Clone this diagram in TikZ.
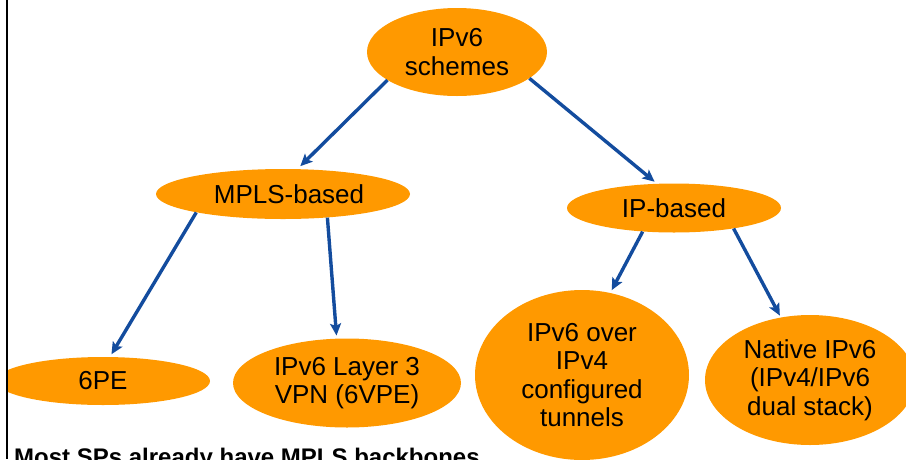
\documentclass[tikz,border=0pt]{standalone}
\usepackage{fontspec}
\setmainfont{Liberation Sans}
\usetikzlibrary{shapes.geometric,arrows.meta}
\definecolor{schemeorange}{HTML}{FF9900}
\definecolor{linkblue}{HTML}{134C9E}
\tikzset{
  oval/.style={ellipse, fill=schemeorange, draw=none, inner sep=0pt,
    align=center, font=\fontsize{26}{28.5}\selectfont},
  link/.style={draw=linkblue, line width=3.4pt,
    -{Stealth[length=12pt,width=11pt,inset=2.5pt]}, shorten >=3pt}
}
\begin{document}
\begin{tikzpicture}[x=1pt, y=-1pt]
\useasboundingbox (0,0) rectangle (906,459);
\begin{scope}
  \clip (8,0) rectangle (906,459);
  % ovals of the classification tree
  \node[oval, minimum width=180pt, minimum height=88pt] (root) at (457,52) {IPv6\\schemes};
  \node[oval, minimum width=254pt, minimum height=50pt] (mpls) at (283,194) {\hspace*{12pt}MPLS-based};
  \node[oval, minimum width=214pt, minimum height=49pt] (ip) at (674,208) {IP-based};
  \node[oval, minimum width=214pt, minimum height=48pt] (sixpe) at (103,381) {6PE};
  \node[oval, minimum width=228pt, minimum height=89pt] (vpe) at (347,383) {IPv6 Layer 3\\VPN (6VPE)};
  \node[oval, minimum width=214pt, minimum height=170pt] (tun) at (582,375) {IPv6 over\\IPv4\\configured\\tunnels};
  \node[oval, minimum width=210pt, minimum height=130pt] (dual) at (810,380) {Native IPv6\\(IPv4/IPv6\\dual stack)};
  % arrows
  \draw[link, shorten >=4pt] (root.202) -- (mpls.60);
  \draw[link] (root.340) -- (ip.125);
  \draw[link] (mpls.192) -- (sixpe.74);
  \draw[link] (mpls.332) -- (vpe.103);
  \draw[link] (ip.217) -- (tun.71);
  \draw[link, shorten >=2pt] (ip.341) -- (dual.115);
  % footnote
  \node[anchor=base west, inner sep=0pt, font=\bfseries\fontsize{24}{28}\selectfont] (note) at (14,465) {Most SPs already have MPLS backbones};
\end{scope}
% left rule
\coordinate (ruletop) at (7,0);
\coordinate (rulebot) at (7,459);
\draw[line width=2.2pt] (ruletop) -- (rulebot);
\end{tikzpicture}
\end{document}
